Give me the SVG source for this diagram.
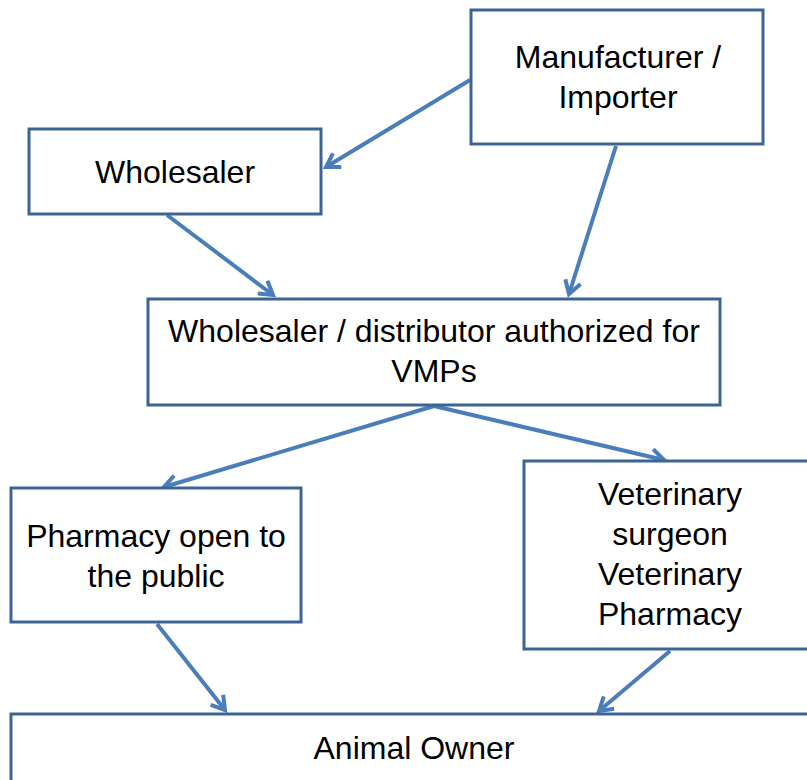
<svg xmlns="http://www.w3.org/2000/svg" width="807" height="780" viewBox="0 0 807 780">
<style>
.box{fill:#fff;stroke:#3c6494;stroke-width:3}
.t{font-family:"Liberation Sans",Arial,sans-serif;font-size:32px;fill:#000;text-anchor:middle}
.c{stroke:#4a7ebb;stroke-width:4;fill:none;marker-end:url(#ah)}
</style>
<defs>
<marker id="ah" viewBox="-16 -11 20 22" refX="0" refY="0" markerWidth="20" markerHeight="22" markerUnits="userSpaceOnUse" orient="auto" overflow="visible">
<path d="M-13,-8 L0,0 L-13,8" fill="none" stroke="#4a7ebb" stroke-width="4" stroke-linejoin="miter"/>
</marker>
</defs>
<rect width="807" height="780" fill="#fff"/>
<g id="connectors">
<line class="c" x1="470" y1="80" x2="326" y2="167"/>
<line class="c" x1="616" y1="146" x2="569" y2="294"/>
<line class="c" x1="167" y1="215" x2="273" y2="295"/>
<line class="c" x1="434" y1="406" x2="164" y2="487"/>
<line class="c" x1="434" y1="406" x2="664" y2="460"/>
<line class="c" x1="157" y1="624" x2="225" y2="710"/>
<line class="c" x1="670" y1="651" x2="599" y2="711"/>
</g>
<g id="manufacturer">
<rect class="box" x="471" y="10" width="292" height="134"/>
<text class="t" x="618" y="68">Manufacturer /</text>
<text class="t" x="618" y="108">Importer</text>
</g>
<g id="wholesaler">
<rect class="box" x="29" y="129" width="292" height="85"/>
<text class="t" x="175" y="183">Wholesaler</text>
</g>
<g id="distributor">
<rect class="box" x="148" y="299" width="572" height="106"/>
<text class="t" x="434" y="342">Wholesaler / distributor authorized for</text>
<text class="t" x="434" y="382">VMPs</text>
</g>
<g id="pharmacy">
<rect class="box" x="11" y="488" width="290" height="134"/>
<text class="t" x="156" y="547">Pharmacy open to</text>
<text class="t" x="156" y="587">the public</text>
</g>
<g id="veterinary">
<rect class="box" x="524" y="461" width="290" height="188"/>
<text class="t" x="670" y="505">Veterinary</text>
<text class="t" x="670" y="545">surgeon</text>
<text class="t" x="670" y="585">Veterinary</text>
<text class="t" x="670" y="625">Pharmacy</text>
</g>
<g id="owner">
<rect class="box" x="11" y="714" width="810" height="80"/>
<text class="t" x="414" y="759">Animal Owner</text>
</g>
</svg>
